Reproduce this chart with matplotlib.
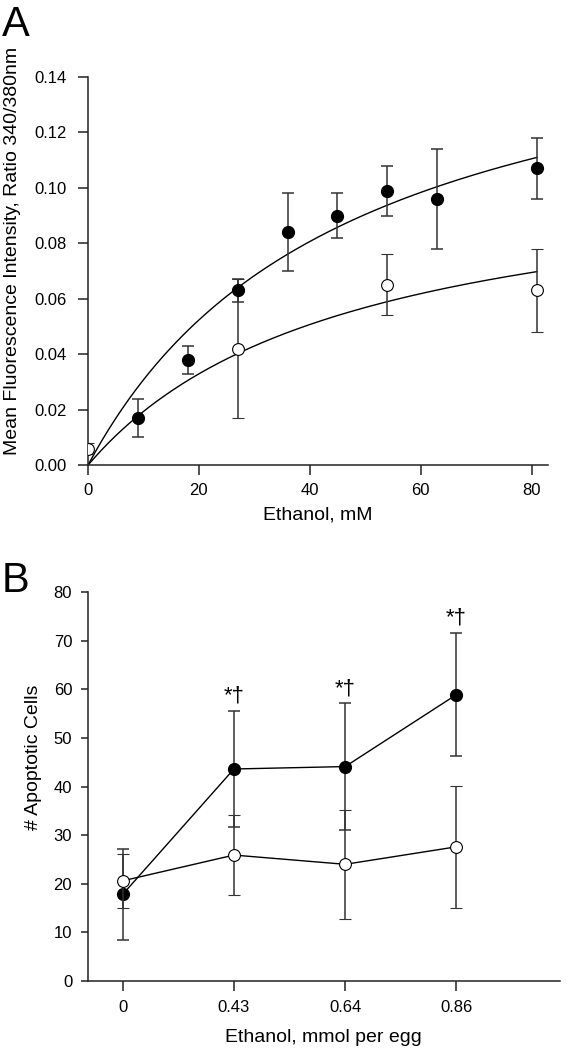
import numpy as np
import matplotlib
matplotlib.use("Agg")
import matplotlib.pyplot as plt

plt.rcParams['font.family'] = ['Liberation Sans', 'DejaVu Sans']

# Panel A data
a_filled_x = [9, 18, 27, 36, 45, 54, 63, 81]
a_filled_y = [0.017, 0.038, 0.063, 0.084, 0.090, 0.099, 0.096, 0.107]
a_filled_err = [0.007, 0.005, 0.004, 0.014, 0.008, 0.009, 0.018, 0.011]
a_open_x = [0, 27, 54, 81]
a_open_y = [0.006, 0.042, 0.065, 0.063]
a_open_err = [0.002, 0.025, 0.011, 0.015]
# hyperbolic fit parameters (Vmax, K)
fit_filled = [0.1754, 47.0]
fit_open = [0.1103, 47.0]

# Panel B data
b_labels = ["0", "0.43", "0.64", "0.86"]
b_filled_y = [17.8, 43.6, 44.1, 58.9]
b_filled_err = [9.4, 11.9, 13.0, 12.7]
b_open_y = [20.6, 25.9, 24.0, 27.6]
b_open_err = [5.6, 8.2, 11.2, 12.6]
b_sig = ["", "*†", "*†", "*†"]

fig = plt.figure(figsize=(5.77, 10.5), dpi=100)

ecol = '#333333'

# ---------- Panel A ----------
axA = fig.add_axes([0.1525, 0.557, 0.7975, 0.3697])
xs = np.linspace(0, 81, 200)
for p in (fit_filled, fit_open):
    axA.plot(xs, p[0] * xs / (p[1] + xs), color='black', lw=1.0, zorder=2)
axA.errorbar(a_filled_x, a_filled_y, yerr=a_filled_err, fmt='o', color='black',
             ecolor=ecol, elinewidth=1.1, capsize=4.5, capthick=1.1,
             markersize=8.5, mfc='black', mec='black', zorder=3)
axA.errorbar(a_open_x, a_open_y, yerr=a_open_err, fmt='o', color='black',
             ecolor=ecol, elinewidth=1.1, capsize=4.5, capthick=1.1,
             markersize=8.5, mfc='white', mec='black', mew=0.8, zorder=3)
axA.set_xlim(0, 83)
axA.set_ylim(0, 0.14)
axA.set_xticks([0, 20, 40, 60, 80])
axA.set_yticks(np.arange(0, 0.141, 0.02))
axA.set_yticklabels([f"{v:.2f}" for v in np.arange(0, 0.141, 0.02)])
axA.set_xlabel("Ethanol, mM", fontsize=14, labelpad=6)
axA.set_ylabel("Mean Fluorescence Intensity, Ratio 340/380nm", fontsize=14)
axA.yaxis.set_label_coords(-0.146, 0.552)
fig.text(0.004, 0.995, "A", fontsize=30, va='top', ha='left')

# ---------- Panel B ----------
axB = fig.add_axes([0.152, 0.0657, 0.8185, 0.3705])
bx = np.arange(len(b_labels))
axB.errorbar(bx, b_filled_y, yerr=b_filled_err, fmt='-o', color='black', lw=1.0,
             ecolor=ecol, elinewidth=1.1, capsize=4.5, capthick=1.1,
             markersize=8.5, mfc='black', mec='black', zorder=3)
axB.errorbar(bx, b_open_y, yerr=b_open_err, fmt='-o', color='black', lw=1.0,
             ecolor=ecol, elinewidth=1.1, capsize=4.5, capthick=1.1,
             markersize=8.5, mfc='white', mec='black', mew=0.8, zorder=4)
for i, s in enumerate(b_sig):
    if s:
        axB.annotate(s, (bx[i], b_filled_y[i] + b_filled_err[i]), xytext=(0, 3),
                     textcoords='offset points', ha='center', va='bottom', fontsize=16)
axB.set_xlim(-0.314, 3.93)
axB.set_ylim(0, 80)
axB.set_xticks(bx)
axB.set_xticklabels(b_labels)
axB.set_yticks(np.arange(0, 81, 10))
axB.set_xlabel("Ethanol, mmol per egg", fontsize=14, labelpad=10)
axB.set_ylabel("# Apoptotic Cells", fontsize=14)
axB.yaxis.set_label_coords(-0.097, 0.576)
fig.text(0.002, 0.466, "B", fontsize=30, va='top', ha='left')

for ax in (axA, axB):
    ax.spines['top'].set_visible(False)
    ax.spines['right'].set_visible(False)
    for sp in ('left', 'bottom'):
        ax.spines[sp].set_linewidth(1.1)
        ax.spines[sp].set_color('#222222')
    ax.tick_params(direction='out', width=1.1, labelsize=12,
                   colors='#222222', labelcolor='black')
axA.tick_params(axis='y', length=7.2, pad=8)
axA.tick_params(axis='x', length=7.2, pad=6)
axB.tick_params(axis='y', length=5.2, pad=6)
axB.tick_params(axis='x', length=7, pad=7)

fig.savefig("out.png", dpi=100)
